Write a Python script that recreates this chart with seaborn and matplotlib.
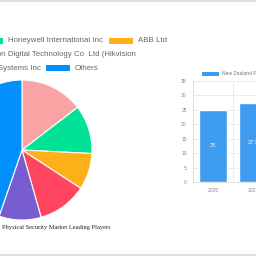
import matplotlib
matplotlib.use('Agg')
import matplotlib.pyplot as plt
from matplotlib.patches import Rectangle
from matplotlib.lines import Line2D
import seaborn as sns
import pandas as pd

# Pie data (leading players share)
players = ['Johnson Controls International plc', 'Honeywell International Inc', 'ABB Ltd',
           'Hangzhou Hikvision Digital Technology Co  Ltd (Hikvision', 'Cisco Systems Inc', 'Others']
shares = [14.6, 11.2, 8.4, 11.4, 9.7, 44.7]
pie_colors = ['#f9a3a4', '#00e396', '#feb019', '#ff4560', '#775dd0', '#008ffb']

# Bar data (market size)
years = ['2020', '2021']
market = [25, 27.5]
bar_label = 'New Zealand Physical Security Market'

W = H = 256
fig = plt.figure(figsize=(2.56, 2.56), dpi=100)
sns.set_style('white')
plt.rcParams['font.family'] = ['Liberation Sans', 'DejaVu Sans']


def px(x, y):
    return x / W, 1 - y / H


# page border lines
fig.add_artist(Line2D([0, 1], [0.998, 0.998], color='#d9d9d9', lw=1.2, transform=fig.transFigure))
fig.add_artist(Line2D([0, 1], [px(0, 254.5)[1]] * 2, color='#d9d9d9', lw=1.2, transform=fig.transFigure))

# ---- pie ----
cx, cy, r = 22, 150, 70
ax1 = fig.add_axes([(cx - r) / W, (H - cy - r) / H, 2 * r / W, 2 * r / H])
ax1.pie(shares, colors=pie_colors, startangle=90, counterclock=False,
        wedgeprops=dict(edgecolor='white', linewidth=0.8))
ax1.set_xlim(-1, 1)
ax1.set_ylim(-1, 1)
ax1.set_aspect('equal')
for p in ax1.patches:
    p.set_clip_on(False)

# pie legend rows (Chart.js style wrapped)
leg_fs = 5.7
leg_col = '#666666'
rows = [
    (41, [(0, -40, -16, 'right', -44), (1, -21, 3, 'left', 8), (2, 109, 133, 'left', 138)]),
    (54, [(3, -180, -156, 'right', 136)]),
    (68, [(4, -30, -6, 'right', 41), (5, 46, 70, 'left', 75)]),
]
for y, items in rows:
    for idx, bx0, bx1, ha, tx in items:
        fx, fy = px(bx0, y + 3)
        fig.add_artist(Rectangle((fx, fy), (bx1 - bx0) / W, 6 / H, transform=fig.transFigure,
                                 facecolor=pie_colors[idx], edgecolor='none'))
        fig.text(tx / W, px(0, y)[1], players[idx], ha=ha, va='center', fontsize=leg_fs, color=leg_col)

fig.text(2 / W, px(0, 227)[1], 'Physical Security Market Leading Players', ha='left', va='center',
         fontsize=4.6, color='#222222', family='Liberation Serif')

# ---- bar chart ----
df = pd.DataFrame({'year': years, 'value': market})
ax2 = fig.add_axes([193 / W, (H - 182) / H, 80 / W, 101 / H])
sns.barplot(data=df, x='year', y='value', ax=ax2, color='#3d9bf0', width=0.7, saturation=1)
ax2.set_xlim(-0.5, 1.5)
ax2.set_ylim(0, 35)
ax2.set_yticks(range(0, 36, 5))
ax2.set_xlabel('')
ax2.set_ylabel('')
ax2.set_xticks([0.5], minor=True)
ax2.grid(True, which='major', axis='y', color='#e8e8e8', lw=0.6)
ax2.grid(True, which='minor', axis='x', color='#e8e8e8', lw=0.6)
for s in ['top', 'right']:
    ax2.spines[s].set_visible(False)
for s in ['left', 'bottom']:
    ax2.spines[s].set_color('#dcdcdc')
    ax2.spines[s].set_linewidth(0.6)
ax2.tick_params(axis='both', labelsize=3.6, colors='#888888', length=3, width=0.5, color='#e0e0e0', pad=1.5)
ax2.tick_params(axis='x', which='minor', length=3, width=0.5, color='#e0e0e0')
ax2.set_axisbelow(True)
for bar, v in zip(ax2.patches, market):
    ax2.text(bar.get_x() + bar.get_width() / 2, v / 2, f'{v:g}', ha='center', va='center',
             fontsize=4.2, color='#e8f2ff')

# bar legend
lx, ly = px(202, 76)
fig.add_artist(Rectangle((lx, ly), 17 / W, 4 / H, transform=fig.transFigure,
                         facecolor='#3d9bf0', edgecolor='none'))
fig.text(222 / W, px(0, 74)[1], bar_label, ha='left', va='center', fontsize=3.6, color='#777777')

fig.savefig('out.png', dpi=100)
